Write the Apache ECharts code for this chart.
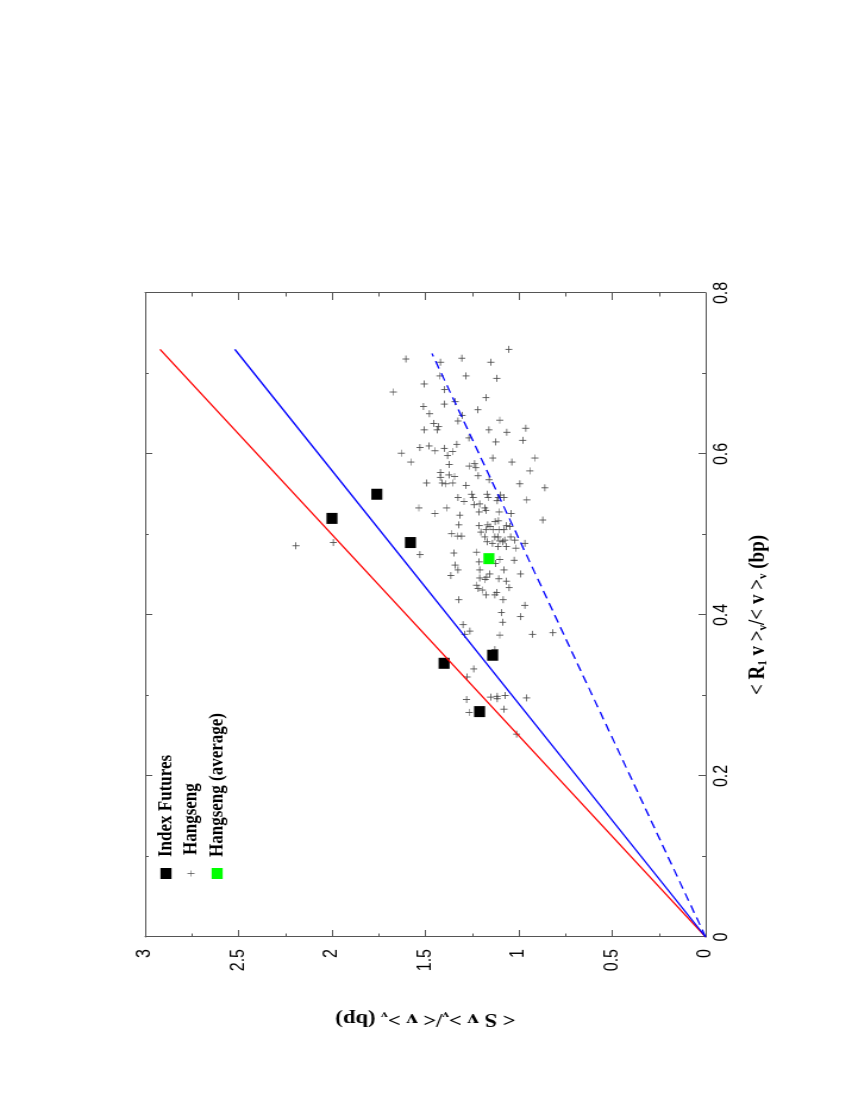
<!DOCTYPE html>
<html>
<head>
<meta charset="utf-8">
<script src="https://cdn.jsdelivr.net/npm/echarts@6/dist/echarts.min.js"></script>
<style>
  html, body { margin: 0; padding: 0; width: 850px; height: 1100px; overflow: hidden; background: #fff; }
  /* the figure is a landscape plot turned a quarter turn, slightly stretched across */
  #chart {
    position: absolute; left: 0; top: 0;
    width: 1100px; height: 714px;
    transform-origin: 0 0;
    transform: translate(0, 1100px) rotate(-90deg) scale(1, 1.19);
  }
</style>
</head>
<body>
<div id="chart"></div>
<script>
// [<R1 v>/<v>, <S v>/<v>] in bp
var indexFutures = [
  [0.52, 2.00], [0.55, 1.76], [0.49, 1.58], [0.34, 1.40], [0.35, 1.14], [0.28, 1.21]
];
var hangsengAvg = [[0.47, 1.16]];
var hangseng = [
  [0.718,1.604],[0.714,1.419],[0.697,1.422],[0.697,1.283],[0.687,1.506],[0.677,1.672],[0.680,1.397],
  [0.662,1.399],[0.665,1.341],[0.659,1.510],[0.650,1.478],[0.648,1.303],[0.641,1.326],[0.638,1.455],
  [0.634,1.429],[0.630,1.437],[0.630,1.506],[0.620,1.267],[0.608,1.529],[0.610,1.480],[0.604,1.449],
  [0.607,1.399],[0.603,1.355],[0.612,1.332],[0.601,1.629],[0.598,1.381],[0.590,1.578],[0.587,1.373],
  [0.585,1.266],[0.588,1.237],[0.583,1.230],[0.577,1.419],[0.571,1.419],[0.574,1.374],[0.572,1.344],
  [0.573,1.218],[0.564,1.494],[0.564,1.410],[0.563,1.390],[0.564,1.355],[0.561,1.282],[0.546,1.325],
  [0.550,1.253],[0.546,1.244],[0.541,1.293],[0.537,1.239],[0.533,1.535],[0.533,1.387],
  [0.568,1.159],[0.538,1.210],[0.550,1.170],[0.546,1.164],[0.546,1.111],[0.549,1.098],[0.546,1.079],
  [0.542,1.116],[0.533,1.182],[0.530,1.176],[0.528,1.212],[0.528,1.105],[0.526,1.041],[0.526,1.449],
  [0.524,1.316],[0.512,1.321],[0.501,1.360],[0.498,1.328],[0.498,1.306],[0.511,1.212],[0.512,1.167],
  [0.510,1.153],[0.516,1.127],[0.517,1.109],[0.511,1.066],[0.503,1.203],[0.506,1.176],[0.506,1.137],
  [0.506,1.105],[0.506,1.080],[0.510,1.048],[0.497,1.182],[0.491,1.170],[0.497,1.128],[0.497,1.111],
  [0.492,1.102],[0.491,1.087],[0.493,1.075],[0.497,1.044],[0.493,1.021],[0.489,1.141],[0.485,1.111],
  [0.485,1.066],[0.483,1.016],[0.489,0.968],[0.475,1.529],[0.477,1.348],[0.478,1.226],[0.466,1.212],
  [0.469,1.102],[0.468,1.025],[0.462,1.341],[0.456,1.326],[0.456,1.209],[0.456,1.080],[0.464,1.125],
  [0.449,1.364],[0.446,1.209],[0.444,1.180],[0.447,1.173],[0.451,1.155],[0.445,1.107],[0.442,1.066],
  [0.451,0.991],[0.437,1.226],[0.433,1.218],[0.431,1.196],[0.425,1.128],[0.428,1.119],[0.434,1.052],
  [0.425,1.176],[0.419,1.322],[0.419,1.084],[0.412,0.968],
  [0.403,1.093],[0.398,0.991],[0.391,1.087],[0.388,1.298],[0.380,1.262],[0.376,1.289],[0.375,1.102],
  [0.376,0.927],[0.357,1.128],[0.333,1.241],[0.323,1.276],[0.295,1.280],[0.298,1.151],[0.299,1.116],
  [0.296,1.116],[0.300,1.073],[0.297,0.959],[0.283,1.080],[0.279,1.266],[0.252,1.012],[0.486,2.193],
  [0.490,1.993],
  [0.730,1.053],[0.714,1.150],[0.719,1.305],[0.694,1.118],[0.670,1.176],[0.655,1.219],[0.642,1.102],
  [0.630,1.160],[0.627,1.064],[0.632,0.963],[0.617,0.979],[0.615,1.123],[0.595,1.139],[0.590,1.037],
  [0.595,0.914],[0.579,0.941],[0.563,0.995],[0.558,0.861],[0.543,0.957],[0.518,0.872],[0.378,0.818]
];
// fitted lines through the origin
var redLine = [[0, 0], [0.73, 2.92]];
var blueLine = [[0, 0], [0.73, 2.52]];
var dashLine = [[0, 0], [0.725, 1.465]];

var xTicks = [0, 0.2, 0.4, 0.6, 0.8];
var yTicks = [0, 0.5, 1, 1.5, 2, 2.5, 3];

var SY = 1.19; // vertical stretch of the figure
var crossPath = "path://M-1,-0.12h2v0.24h-2z M-0.12,-1h0.24v2h-0.24z";
var frame = { show: true, onZero: false, lineStyle: { color: "#555", width: 1 } };
var tickFont = { fontFamily: "Liberation Sans", fontSize: 16, color: "#000" };
var titleRich = {
  b: { fontFamily: "Liberation Serif", fontWeight: "bold", fontSize: 19, color: "#000" },
  s: { fontFamily: "Liberation Serif", fontWeight: "bold", fontSize: 11, color: "#000", padding: [9, 0, 0, 0] }
};
var legendText = { fontFamily: "Liberation Serif", fontWeight: "bold", fontSize: 17, color: "#000", padding: [0, 0, 0, 6] };

var chart = echarts.init(document.getElementById("chart"));

var option = {
  backgroundColor: "#fff",
  animation: false,
  grid: { left: 163, right: 293, top: 122, bottom: 121 },
  legend: [
    { data: ["Index Futures"], orient: "vertical", left: 221, top: 131, padding: 0,
      itemWidth: 11, itemHeight: 9.3, textStyle: legendText, selectedMode: false },
    { data: [{ name: "Hangseng", icon: crossPath }], orient: "vertical", left: 223.5, top: 152, padding: 0,
      itemWidth: 7, itemHeight: 6, textStyle: Object.assign({}, legendText, { padding: [0, 0, 0, 10] }), selectedMode: false },
    { data: ["Hangseng (average)"], orient: "vertical", left: 221, top: 174, padding: 0,
      itemWidth: 11, itemHeight: 9.3, textStyle: legendText, selectedMode: false }
  ],
  xAxis: [
    {
      type: "value", min: 0, max: 0.8, interval: 0.2, position: "bottom",
      axisLine: frame,
      axisTick: { show: true, inside: true, length: 6 },
      minorTick: { show: true, splitNumber: 2, length: 3 },
      splitLine: { show: false },
      axisLabel: Object.assign({ margin: 6, formatter: function (v) { return xTicks.indexOf(+v.toFixed(1)) >= 0 ? String(+v.toFixed(1)) : ""; } }, tickFont),
      name: "{b|< R}{s|1}{b| v >}{s|v}{b|/< v >}{s|v}{b| (bp)}",
      nameLocation: "middle", nameGap: 34,
      nameTextStyle: { rich: titleRich }
    },
    {
      type: "value", min: 0, max: 0.8, interval: 0.2, position: "top",
      axisLine: frame,
      axisTick: { show: true, inside: true, length: 6 },
      minorTick: { show: true, splitNumber: 2, length: 3 },
      splitLine: { show: false }, axisLabel: { show: false }
    }
  ],
  yAxis: [
    {
      type: "value", min: 0, max: 3, interval: 0.5, position: "left",
      axisLine: frame,
      axisTick: { show: true, inside: true, length: 7 },
      minorTick: { show: true, splitNumber: 2, length: 3.5 },
      splitLine: { show: false },
      axisLabel: Object.assign({ margin: 12, formatter: function (v) { return String(v); } }, tickFont),
      name: "{b|< S v >}{s|v}{b|/< v >}{s|v}{b| (bp)}",
      nameLocation: "middle", nameGap: 72, nameRotate: 90,
      nameTextStyle: { rich: titleRich }
    },
    {
      type: "value", min: 0, max: 3, interval: 0.5, position: "right",
      axisLine: frame,
      axisTick: { show: true, inside: true, length: 7 },
      minorTick: { show: true, splitNumber: 2, length: 3.5 },
      splitLine: { show: false }, axisLabel: { show: false }
    }
  ],
  series: [
    { name: "red", type: "line", data: redLine, showSymbol: false, silent: true,
      lineStyle: { color: "#ff0000", width: 1.3 } },
    { name: "blue", type: "line", data: blueLine, showSymbol: false, silent: true,
      lineStyle: { color: "#0000ff", width: 1.3 } },
    { name: "blueDash", type: "line", data: dashLine, showSymbol: false, silent: true,
      lineStyle: { color: "#0000ff", width: 1.3, type: [8, 5] } },
    { name: "Hangseng", type: "scatter", data: hangseng, symbol: crossPath, symbolSize: [7, 7 / SY],
      itemStyle: { color: "#333", opacity: 0.9 } },
    { name: "Index Futures", type: "scatter", data: indexFutures, symbol: "rect", symbolSize: [11, 11 / SY],
      itemStyle: { color: "#000", opacity: 1 } },
    { name: "Hangseng (average)", type: "scatter", data: hangsengAvg, symbol: "rect", symbolSize: [11, 11 / SY],
      itemStyle: { color: "#00ff00", opacity: 1 } }
  ]
};
chart.setOption(option);
</script>
</body>
</html>
